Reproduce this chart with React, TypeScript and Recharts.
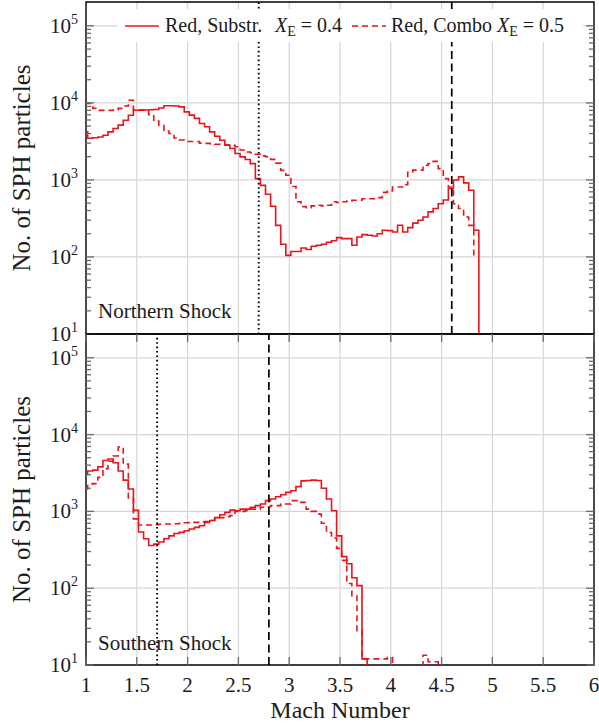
import React from 'react';
import {
  LineChart,
  Line,
  XAxis,
  YAxis,
  CartesianGrid,
  ReferenceLine,
  ReferenceArea,
  Legend,
  Customized,
} from 'recharts';

const FONT = "'Liberation Serif', 'Times New Roman', Times, 'DejaVu Serif', serif";
const INK = '#1c1c1c';
const RED = '#e8141c';
const GRID = '#d6d6d6';
const TICK = '#6a6a6a';

// histogram binning along the Mach number axis
const binStart = 1 + 1 / 60;
const binWidth = 0.05;

const machTicks = [1, 1.5, 2, 2.5, 3, 3.5, 4, 4.5, 5, 5.5, 6];
const gridMach = [1.5, 2, 2.5, 3, 3.5, 4, 4.5, 5, 5.5];
const decadeTicks = [10, 100, 1000, 10000, 100000];
const minorTicks = [
  20, 30, 40, 50, 60, 70, 80, 90,
  200, 300, 400, 500, 600, 700, 800, 900,
  2000, 3000, 4000, 5000, 6000, 7000, 8000, 9000,
  20000, 30000, 40000, 50000, 60000, 70000, 80000, 90000,
];
const gridCounts = [100, 1000, 10000, 100000];
const yDomain = [10, 204000];

// counts per bin (first entry: partial bin starting at Mach 1)
const northSubstr = [
  4200, 3480, 3520, 3600, 3800, 4200, 4650, 5140, 5960, 6920, 8030,
  8050, 8100, 8150, 8200, 8600, 9200, 9200, 9100, 8870, 7640,
  6930, 6300, 5400, 4900, 4200, 3690, 3270, 2820, 2560, 2200,
  1990, 1840, 1630, 1040, 850, 652, 455, 257, 146, 105,
  118, 118, 131, 125, 138, 142, 146, 155, 162, 178,
  173, 173, 142, 182, 195, 191, 187, 200, 222, 220,
  211, 258, 211, 240, 275, 300, 330, 385, 425, 490,
  550, 775, 1000, 1095, 915, 735, 222,
];
const northSubstrEnd = 1;

const northCombo = [
  10000, 9800, 8500, 8000, 8000, 8000, 8100, 8500, 9100, 10800, 8100,
  8100, 8100, 7000, 5800, 5100, 4300, 4000, 3500, 3300, 3160,
  3150, 3150, 3000, 2980, 2960, 2900, 2880, 2850, 2820, 2700,
  2450, 2300, 2250, 2150, 2050, 2000, 1850, 1650, 1330, 1150,
  820, 520, 450, 435, 460, 470, 460, 470, 520, 510,
  520, 530, 545, 545, 570, 570, 570, 590, 690, 720,
  810, 810, 870, 1260, 1340, 1340, 1550, 1630, 1740, 1400,
  1040, 810, 490, 425, 330, 257,
];
const northComboEnd = 100;

const southSubstr = [
  3060, 3350, 3450, 3800, 4600, 4800, 4300, 3350, 2550, 1960, 1030,
  540, 440, 360, 375, 400, 440, 480, 515, 533, 560,
  590, 620, 650, 720, 760, 830, 905, 970, 1040, 1020,
  1070, 1070, 1130, 1190, 1250, 1380, 1450, 1550, 1650, 1770,
  1860, 2100, 2500, 2520, 2550, 2520, 2000, 1450, 1020, 480,
  258, 208, 137, 108, 12,
];
const southSubstrEnd = 1;

const southCombo = [
  1960, 2270, 2300, 2770, 3600, 4500, 5260, 6900, 4120, 1500, 800,
  665, 665, 665, 670, 680, 685, 685, 690, 700, 710,
  720, 720, 730, 740, 760, 830, 830, 850, 880, 1000,
  1000, 1020, 1070, 1070, 1130, 1150, 1190, 1190, 1250, 1250,
  1380, 1380, 1310, 1070, 1000, 920, 700, 530, 450, 330,
  230, 115, 80, 28, 12, 12, 12, 12, 12, 12.5,
  1, 1, 1, 1, 1, 1, 13.4, 11, 11,
];
const southComboEnd = 1;

const northMarkers = { dotted: 2.7, dashed: 4.6 };
const southMarkers = { dotted: 1.7, dashed: 2.8 };

function buildRows(solid: number[], solidEnd: number, dashed: number[], dashedEnd: number) {
  const n = Math.max(solid.length, dashed.length) + 1;
  const rows: any[] = [];
  const pick = (arr: number[], end: number, j: number) =>
    j < arr.length ? arr[j] : j === arr.length ? end : null;
  for (let j = 0; j < n; j++) {
    const mach = j === 0 ? 1 : binStart + (j - 1) * binWidth;
    rows.push({
      mach,
      substr: pick(solid, solidEnd, j),
      combo: pick(dashed, dashedEnd, j),
    });
  }
  return rows;
}

const northRows = buildRows(northSubstr, northSubstrEnd, northCombo, northComboEnd);
const southRows = buildRows(southSubstr, southSubstrEnd, southCombo, southComboEnd);

const PL = 86;
const PR = 594;

function YTick(props: any) {
  const { y, payload } = props;
  const v = payload.value;
  const lg = Math.log10(v);
  const exp = Math.round(lg);
  const major = Math.abs(lg - exp) < 1e-6;
  const len = major ? 8 : 5;
  return (
    <g>
      <line x1={PL} x2={PL + len} y1={y} y2={y} stroke={TICK} strokeWidth={1.3} />
      <line x1={PR} x2={PR - len} y1={y} y2={y} stroke={TICK} strokeWidth={1.3} />
      {major && (
        <text x={78} y={y + 7} textAnchor="end" style={{ fontFamily: FONT }} fontSize={21} fill={INK}>
          10
          <tspan dy={-9} fontSize={14}>
            {exp}
          </tspan>
        </text>
      )}
    </g>
  );
}

function makeXTick(plotTop: number, plotBottom: number, showLabel: boolean) {
  return function XTick(props: any) {
    const { x, payload } = props;
    return (
      <g>
        <line x1={x} x2={x} y1={plotBottom} y2={plotBottom - 8} stroke={TICK} strokeWidth={1.3} />
        <line x1={x} x2={x} y1={plotTop} y2={plotTop + 8} stroke={TICK} strokeWidth={1.3} />
        {showLabel && (
          <text x={x} y={plotBottom + 27} textAnchor="middle" style={{ fontFamily: FONT }} fontSize={21} fill={INK}>
            {String(payload.value)}
          </text>
        )}
      </g>
    );
  };
}

function XE({ value }: { value: string }) {
  return (
    <span>
      <i>X</i>
      <span style={{ fontSize: 14, position: 'relative', top: 4 }}>E</span>
      {' = ' + value}
    </span>
  );
}

function LegendBox() {
  const txt: React.CSSProperties = {
    position: 'absolute',
    top: 4,
    lineHeight: '24px',
    whiteSpace: 'nowrap',
  };
  return (
    <div
      style={{
        position: 'relative',
        width: 466,
        height: 33,
        background: '#fff',
        fontFamily: FONT,
        fontSize: 20,
        color: INK,
      }}
    >
      <svg style={{ position: 'absolute', left: 8, top: 15 }} width={34} height={4}>
        <line x1={0} x2={34} y1={2} y2={2} stroke={RED} strokeWidth={1.6} />
      </svg>
      <span style={{ ...txt, left: 48 }}>Red, Substr.</span>
      <span style={{ ...txt, left: 158 }}>
        <XE value="0.4" />
      </span>
      <svg style={{ position: 'absolute', left: 235, top: 15 }} width={34} height={4}>
        <line x1={0} x2={34} y1={2} y2={2} stroke={RED} strokeWidth={1.6} strokeDasharray="6 4" />
      </svg>
      <span style={{ ...txt, left: 274 }}>Red, Combo</span>
      <span style={{ ...txt, left: 380 }}>
        <XE value="0.5" />
      </span>
    </div>
  );
}

function Panel(props: {
  rows: any[];
  title: string;
  markers: { dotted: number; dashed: number };
  bottom: boolean;
}) {
  const { rows, title, markers, bottom } = props;
  const height = bottom ? 394 : 346;
  const plotTop = 2;
  const plotBottom = bottom ? 333 : 334;
  const XTick = makeXTick(plotTop, plotBottom, bottom);
  const midY = plotTop + (plotBottom - plotTop) / 2;
  return (
    <LineChart
      width={599}
      height={height}
      data={rows}
      margin={{ top: 2, right: 5, bottom: bottom ? 0 : 12, left: 0 }}
    >
      <CartesianGrid
        stroke={GRID}
        strokeWidth={1.2}
        horizontalValues={gridCounts}
        verticalValues={gridMach}
      />
      <XAxis
        dataKey="mach"
        type="number"
        domain={[1, 6]}
        ticks={machTicks}
        interval={0}
        allowDataOverflow
        axisLine={false}
        tickLine={false}
        height={bottom ? 61 : 0}
        tick={<XTick />}
        label={
          bottom
            ? {
                value: 'Mach Number',
                position: 'insideBottom',
                offset: 8,
                style: { fontFamily: FONT, fontSize: 24, fill: INK },
              }
            : undefined
        }
      />
      <YAxis
        type="number"
        scale="log"
        domain={yDomain}
        allowDataOverflow
        ticks={[...decadeTicks, ...minorTicks]}
        interval={0}
        width={86}
        axisLine={false}
        tickLine={false}
        tick={<YTick />}
      />
      <Line
        dataKey="substr"
        name="Red, Substr."
        type="stepAfter"
        stroke={RED}
        strokeWidth={1.6}
        dot={false}
        activeDot={false}
        connectNulls={false}
        isAnimationActive={false}
      />
      <Line
        dataKey="combo"
        name="Red, Combo"
        type="stepAfter"
        stroke={RED}
        strokeWidth={1.6}
        strokeDasharray="6 4"
        dot={false}
        activeDot={false}
        connectNulls={false}
        isAnimationActive={false}
      />
      <ReferenceLine x={markers.dotted} stroke="#000" strokeWidth={1.9} strokeDasharray="1.6 2.8" />
      <ReferenceLine x={markers.dashed} stroke="#000" strokeWidth={1.7} strokeDasharray="8 4.5" />
      <ReferenceArea x1={1} x2={6} y1={yDomain[0]} y2={yDomain[1]} fill="none" stroke="#000" strokeWidth={1.4} fillOpacity={0} />
      <Customized
        component={() => (
          <g>
            <text x={98} y={318} style={{ fontFamily: FONT }} fontSize={21} fill={INK}>
              {title}
            </text>
            <text
              x={30}
              y={midY}
              transform={`rotate(-90 30 ${midY})`}
              textAnchor="middle"
              style={{ fontFamily: FONT }}
              fontSize={25}
              fill={INK}
            >
              No. of SPH particles
            </text>
          </g>
        )}
      />
      {!bottom && (
        <Legend
          layout="horizontal"
          verticalAlign="middle"
          align="center"
          wrapperStyle={{ top: 9, left: 117, width: 466, height: 33 }}
          content={() => <LegendBox />}
        />
      )}
    </LineChart>
  );
}

export default function App() {
  return (
    <div
      style={{
        position: 'absolute',
        left: 0,
        top: 0,
        width: 599,
        height: 726,
        background: '#fff',
        overflow: 'hidden',
        fontFamily: FONT,
      }}
    >
      <div style={{ position: 'absolute', left: 0, top: 0 }}>
        <Panel rows={northRows} title="Northern Shock" markers={northMarkers} bottom={false} />
      </div>
      <div style={{ position: 'absolute', left: 0, top: 332 }}>
        <Panel rows={southRows} title="Southern Shock" markers={southMarkers} bottom={true} />
      </div>
    </div>
  );
}
